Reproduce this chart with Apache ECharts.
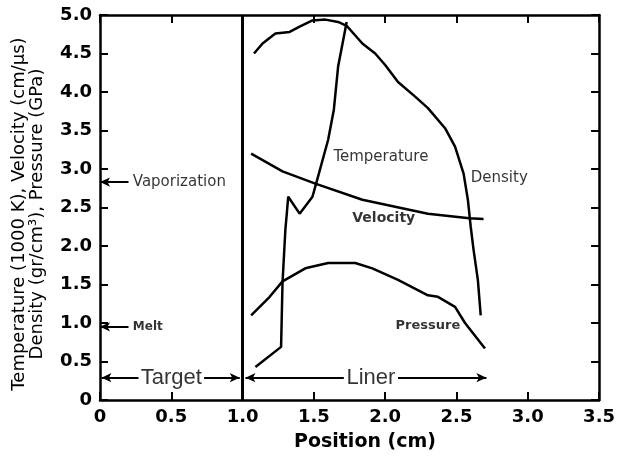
<!DOCTYPE html>
<html>
<head>
<meta charset="utf-8">
<script src="https://cdn.jsdelivr.net/npm/echarts@6/dist/echarts.min.js"></script>
<style>
    html, body { margin: 0; padding: 0; background: #fff; }
    #main { width: 618px; height: 459px; }
</style>
</head>
<body>
<div id="main"></div>
<script>
    // curves (x = position cm, y = value)
    const densityX = [1.08, 1.14, 1.23, 1.33, 1.40, 1.49, 1.58, 1.67, 1.73, 1.84, 1.93, 2.00, 2.09, 2.21, 2.30, 2.42, 2.49, 2.55, 2.58, 2.60, 2.62, 2.65, 2.67];
    const densityY = [4.50, 4.63, 4.76, 4.78, 4.85, 4.93, 4.94, 4.91, 4.86, 4.63, 4.50, 4.35, 4.13, 3.94, 3.79, 3.53, 3.29, 2.94, 2.60, 2.25, 1.95, 1.56, 1.10];

    const tempX = [1.09, 1.27, 1.28, 1.30, 1.31, 1.32, 1.40, 1.49, 1.52, 1.60, 1.64, 1.67, 1.73];
    const tempY = [0.43, 0.69, 1.52, 2.21, 2.42, 2.64, 2.42, 2.64, 2.84, 3.38, 3.77, 4.33, 4.91];

    const velocityX = [1.06, 1.28, 1.51, 1.84, 2.30, 2.59, 2.69];
    const velocityY = [3.20, 2.97, 2.81, 2.60, 2.42, 2.36, 2.35];

    const pressureX = [1.06, 1.19, 1.28, 1.44, 1.60, 1.79, 1.91, 2.09, 2.30, 2.37, 2.49, 2.56, 2.70];
    const pressureY = [1.10, 1.34, 1.54, 1.71, 1.78, 1.78, 1.71, 1.56, 1.36, 1.34, 1.21, 1.00, 0.67];

    // text on the plot
    const noteText = ['Temperature', 'Density', 'Velocity', 'Pressure', 'Vaporization', 'Melt', 'Target', 'Liner'];
    const noteX = [1.97, 2.80, 1.99, 2.30, 0.23, 0.23, 0.50, 1.90];
    const noteY = [3.16, 2.88, 2.36, 0.96, 2.83, 0.95, 0.29, 0.29];

    // arrows: [fromX, fromY, toX, toY], head at "to"
    const arrows = [
        [0.20, 2.83, 0.00, 2.83],
        [0.20, 0.95, 0.00, 0.95],
        [0.27, 0.29, 0.01, 0.29],
        [0.73, 0.29, 0.98, 0.29],
        [1.71, 0.29, 1.02, 0.29],
        [2.09, 0.29, 2.71, 0.29]
    ];
    const dividerX = 1.0;

    const xTicks = [0, 0.5, 1.0, 1.5, 2.0, 2.5, 3.0, 3.5];
    const yTicks = [0, 0.5, 1.0, 1.5, 2.0, 2.5, 3.0, 3.5, 4.0, 4.5, 5.0];

    function zip(xs, ys) {
        return xs.map(function (x, i) { return [x, ys[i]]; });
    }
    function tickFmt(v) {
        return v === 0 ? '0' : v.toFixed(1);
    }

    const noteStyle = {
        'Temperature': { fontSize: 15 },
        'Density': { fontSize: 15 },
        'Velocity': { fontSize: 14, fontWeight: 'bold' },
        'Pressure': { fontSize: 13, fontWeight: 'bold' },
        'Vaporization': { fontSize: 15, align: 'left' },
        'Melt': { fontSize: 12, fontWeight: 'bold', align: 'left' },
        'Target': { fontSize: 22, fontFamily: 'Liberation Sans' },
        'Liner': { fontSize: 22, fontFamily: 'Liberation Sans' }
    };

    const lineSeries = function (name, xs, ys) {
        return {
            name: name,
            type: 'line',
            data: zip(xs, ys),
            showSymbol: false,
            symbol: 'none',
            lineStyle: { color: '#000', width: 2.5 },
            animation: false
        };
    };

    const axisBase = {
        type: 'value',
        axisLine: { show: true, onZero: false, lineStyle: { color: '#000', width: 2.5 } },
        axisTick: { show: true, inside: true, length: 8, lineStyle: { color: '#000', width: 2 } },
        splitLine: { show: false }
    };
    const labelFont = { color: '#000', fontFamily: 'DejaVu Sans', fontWeight: 'bold', fontSize: 18 };

    let myChart = echarts.init(document.getElementById('main'));
    myChart.setOption({
        backgroundColor: '#fff',
        grid: { left: 100, right: 16, top: 15, bottom: 59 },
        xAxis: [
            Object.assign({}, axisBase, {
                min: xTicks[0], max: xTicks[xTicks.length - 1], interval: 0.5,
                position: 'bottom',
                axisLabel: Object.assign({ formatter: tickFmt, margin: 8 }, labelFont)
            }),
            Object.assign({}, axisBase, {
                min: xTicks[0], max: xTicks[xTicks.length - 1], interval: 0.5,
                position: 'top', axisLabel: { show: false }
            })
        ],
        yAxis: [
            Object.assign({}, axisBase, {
                min: yTicks[0], max: yTicks[yTicks.length - 1], interval: 0.5,
                position: 'left',
                axisLabel: Object.assign({ formatter: tickFmt, margin: 8 }, labelFont)
            }),
            Object.assign({}, axisBase, {
                min: yTicks[0], max: yTicks[yTicks.length - 1], interval: 0.5,
                position: 'right', axisLabel: { show: false }
            })
        ],
        graphic: [
            {
                type: 'text', x: 28, y: 214, rotation: Math.PI / 2,
                style: {
                    text: 'Temperature (1000 K), Velocity (cm/µs)\nDensity (gr/cm³), Pressure (GPa)',
                    align: 'center', verticalAlign: 'middle', lineHeight: 18,
                    font: '18px "DejaVu Sans"', fill: '#000'
                }
            },
            {
                type: 'text', x: 365, y: 442,
                style: {
                    text: 'Position (cm)', align: 'center', verticalAlign: 'middle',
                    font: 'bold 19px "DejaVu Sans"', fill: '#000'
                }
            }
        ],
        series: [
            Object.assign(lineSeries('Density', densityX, densityY), {
                markLine: {
                    silent: true, animation: false, symbol: 'none',
                    label: { show: false },
                    lineStyle: { color: '#000', width: 3, type: 'solid' },
                    data: [{ xAxis: dividerX }]
                }
            }),
            lineSeries('Temperature', tempX, tempY),
            lineSeries('Velocity', velocityX, velocityY),
            lineSeries('Pressure', pressureX, pressureY),
            {
                name: 'notes',
                type: 'scatter',
                symbolSize: 0,
                animation: false,
                silent: true,
                data: noteText.map(function (t, i) {
                    const s = noteStyle[t];
                    return {
                        value: [noteX[i], noteY[i]],
                        label: {
                            show: true,
                            position: 'inside',
                            formatter: t,
                            color: '#000',
                            fontFamily: s.fontFamily || 'DejaVu Sans',
                            fontSize: s.fontSize,
                            fontWeight: s.fontWeight || 'normal',
                            align: s.align || 'center',
                            verticalAlign: 'middle',
                            backgroundColor: (t === 'Target' || t === 'Liner') ? '#fff' : 'transparent'
                        }
                    };
                }),
                markLine: {
                    silent: true, animation: false,
                    symbol: ['none', 'arrow'],
                    symbolSize: [7, 10],
                    label: { show: false },
                    lineStyle: { color: '#000', width: 2, type: 'solid' },
                    data: arrows.map(function (a) {
                        return [{ coord: [a[0], a[1]] }, { coord: [a[2], a[3]] }];
                    })
                }
            }
        ]
    });
    window.onresize = myChart.resize;
</script>
</body>
</html>
